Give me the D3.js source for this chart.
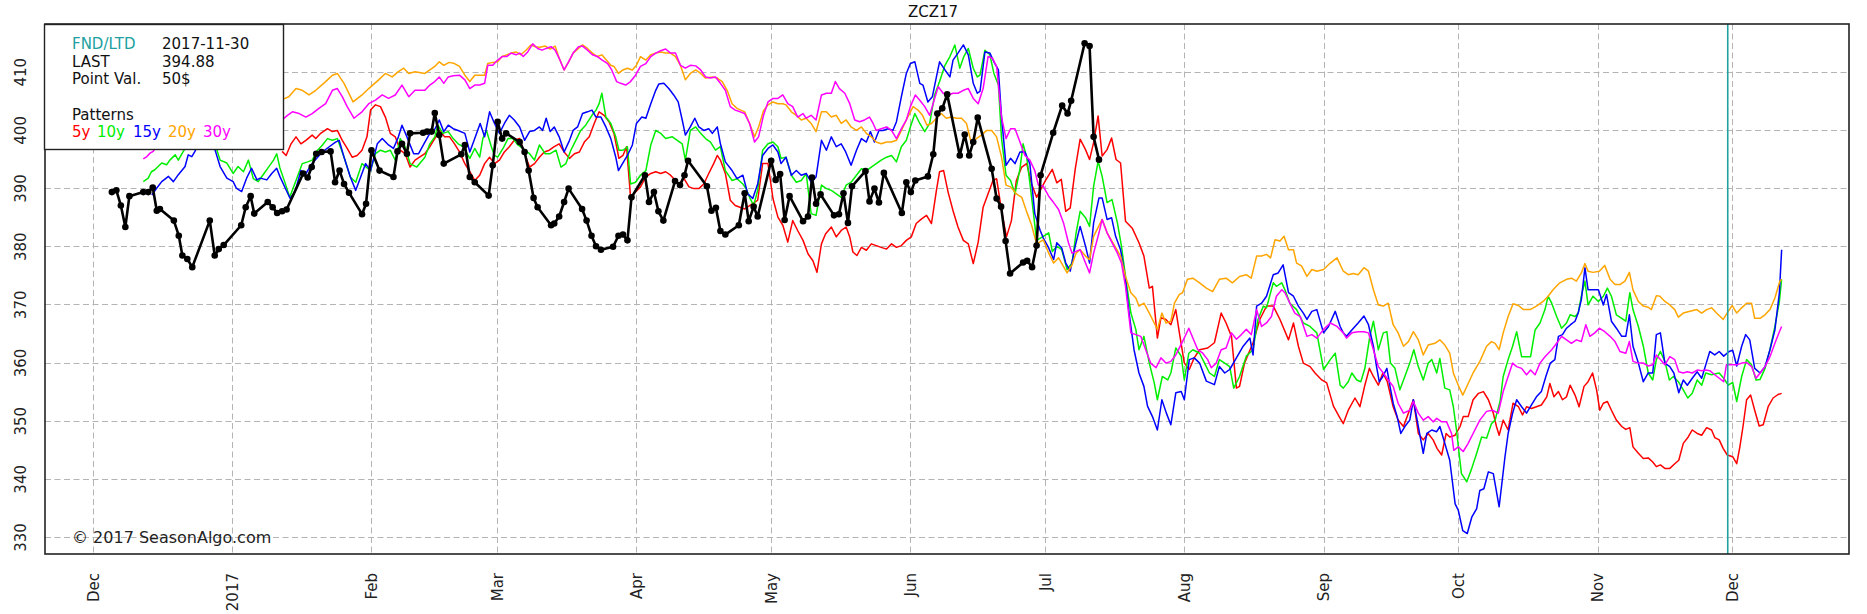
<!DOCTYPE html>
<html><head><meta charset="utf-8">
<script src="https://cdn.jsdelivr.net/npm/d3@7"></script>
<style>
html,body{margin:0;padding:0;background:#fff;}
svg{display:block;font-family:"DejaVu Sans",sans-serif;}
</style></head><body>
<svg id="chart" width="1867" height="614"></svg>
<script>
// ---- data (x = days since 2016-12-01, y = price) ----
const title = "ZCZ17";
const xTickDates = ["2016-12-01","2017-01-01","2017-02-01","2017-03-01","2017-04-01","2017-05-01","2017-06-01","2017-07-01","2017-08-01","2017-09-01","2017-10-01","2017-11-01","2017-12-01"];
const xTickLabels = ["Dec","2017","Feb","Mar","Apr","May","Jun","Jul","Aug","Sep","Oct","Nov","Dec"];
const yTicks = [330,340,350,360,370,380,390,400,410];
const fndDate = "2017-11-30";
const infoRows = [["FND/LTD","2017-11-30"],["LAST","394.88"],["Point Val.","50$"]];
const patternNames = ["5y","10y","15y","20y","30y"];

const price = [[4.2,389.3],[5.2,389.6],[6.2,387.0],[7.2,383.3],[8.1,388.6],[11.2,389.3],[12.3,389.3],[13.3,390.1],[14.2,386.1],[14.9,386.4],[18.0,384.4],[19.1,381.8],[19.9,378.4],[21.0,377.8],[22.1,376.4],[26.0,384.4],[27.1,378.4],[28.0,379.5],[29.1,380.2],[33.0,383.6],[34.0,386.7],[35.1,388.6],[35.9,385.6],[38.9,387.6],[40.0,386.7],[41.0,385.7],[42.1,386.0],[43.1,386.3],[46.8,392.5],[47.8,391.8],[48.7,393.6],[49.7,395.9],[50.9,396.2],[52.9,396.3],[53.9,391.0],[54.9,393.0],[55.9,390.7],[57.0,389.2],[59.9,385.5],[60.8,387.3],[62.0,396.5],[63.8,393.0],[66.9,391.9],[67.8,396.3],[68.8,397.6],[69.9,395.9],[70.6,399.4],[73.5,399.5],[74.4,399.7],[75.4,399.7],[76.1,402.9],[77.1,399.1],[78.1,394.2],[82.0,395.8],[82.8,397.4],[83.9,391.9],[85.0,391.0],[88.1,388.7],[89.0,393.9],[90.1,401.4],[91.1,398.5],[92.0,399.4],[95.0,397.9],[96.1,396.2],[97.0,393.0],[98.1,388.3],[99.0,386.7],[102.0,383.6],[102.7,383.9],[103.8,385.1],[104.9,387.6],[105.9,389.9],[108.9,386.4],[109.9,384.4],[111.0,381.8],[112.0,380.0],[113.1,379.4],[115.8,379.9],[117.0,381.8],[118.0,382.0],[119.0,381.0],[119.9,388.4],[122.9,392.2],[123.8,387.6],[124.9,389.3],[125.9,386.0],[127.0,384.4],[129.6,391.2],[130.7,390.5],[131.7,392.2],[132.5,394.7],[136.7,390.3],[137.7,386.1],[138.7,386.6],[139.7,382.6],[140.8,382.0],[143.8,383.6],[145.1,389.1],[146.0,384.3],[147.1,386.8],[148.0,385.1],[151.0,394.7],[152.0,391.4],[153.0,392.4],[154.0,384.5],[155.1,388.6],[158.1,384.3],[159.2,385.1],[160.1,391.8],[161.0,387.3],[162.0,388.9],[165.0,385.3],[166.1,385.5],[167.1,389.1],[168.1,384.0],[169.0,390.3],[172.0,392.9],[172.9,387.7],[174.0,389.9],[175.0,387.5],[176.1,392.6],[180.1,385.7],[181.1,391.0],[182.1,389.3],[183.1,391.3],[185.9,392.0],[187.1,395.8],[188.0,402.8],[189.1,403.7],[190.2,406.1],[193.0,395.6],[194.1,399.2],[195.1,395.6],[196.0,397.9],[197.0,402.1],[200.1,393.3],[201.2,388.2],[202.2,386.8],[203.2,380.9],[204.2,375.3],[207.1,377.2],[208.0,377.5],[209.1,376.4],[210.1,380.1],[211.0,392.2],[213.8,399.5],[215.8,404.2],[217.0,402.8],[217.8,405.0],[220.8,414.9],[221.9,414.4],[222.8,398.8],[224.0,394.88]];

const p5y = [[42.1,396.3],[43.0,395.6],[44.1,397.6],[45.2,398.8],[46.3,397.6],[47.4,398.2],[48.8,399.1],[49.6,398.5],[50.7,399.4],[52.2,400.2],[53.3,399.7],[54.4,399.9],[55.5,398.2],[56.6,396.8],[57.7,395.3],[58.8,395.6],[59.9,396.5],[61.0,398.8],[61.8,403.4],[62.9,404.3],[64.0,404.0],[65.1,402.2],[66.2,399.4],[67.3,398.8],[68.4,396.5],[69.5,395.9],[70.6,393.6],[71.7,394.8],[73.9,395.9],[75.0,397.1],[76.1,398.5],[77.2,399.9],[78.3,398.8],[79.4,398.8],[80.5,397.6],[81.6,396.2],[82.8,394.2],[83.9,392.8],[85.0,391.3],[86.1,392.2],[87.2,394.2],[88.3,395.3],[89.4,394.2],[90.5,394.8],[91.6,396.2],[92.7,397.1],[93.8,398.2],[95.0,398.5],[96.1,395.9],[97.2,393.6],[98.3,394.2],[99.4,395.3],[100.5,396.2],[101.6,396.5],[102.7,397.1],[103.8,397.6],[104.9,396.2],[106.1,395.1],[107.2,395.9],[108.3,396.2],[109.4,397.9],[110.5,398.8],[111.6,401.1],[112.7,403.1],[113.8,402.5],[114.9,401.4],[116.0,399.4],[117.1,395.1],[118.0,395.6],[118.8,397.1],[119.7,388.4],[120.8,389.3],[121.9,390.2],[123.1,391.9],[124.2,392.5],[125.3,392.8],[126.4,392.5],[127.5,392.8],[128.6,392.2],[129.7,391.3],[130.5,390.7],[131.6,391.6],[132.7,390.2],[133.8,389.9],[134.9,389.9],[136.0,390.7],[137.1,392.5],[138.2,394.2],[139.0,395.6],[139.7,394.8],[140.8,392.5],[141.9,387.9],[143.0,387.0],[145.1,386.4],[146.9,387.3],[148.0,387.9],[149.1,394.2],[150.3,394.2],[151.4,388.2],[152.5,385.0],[153.6,383.6],[154.7,380.7],[155.8,384.4],[156.9,382.7],[158.1,381.0],[159.2,378.7],[160.3,377.5],[161.2,375.5],[162.2,380.4],[163.1,382.1],[164.4,383.3],[165.5,381.6],[166.6,382.7],[167.7,383.3],[168.5,381.6],[169.2,379.0],[170.1,378.4],[171.1,379.8],[172.2,379.3],[173.3,380.4],[174.4,380.1],[175.5,379.8],[176.7,379.5],[177.8,380.4],[178.9,379.8],[180.0,380.1],[181.1,381.0],[182.2,381.6],[183.3,383.9],[184.5,384.7],[185.6,385.3],[186.7,383.9],[187.8,389.6],[188.5,392.8],[189.4,393.0],[190.4,389.3],[191.5,386.1],[192.6,383.3],[193.8,381.0],[194.9,380.4],[196.0,377.0],[197.1,380.7],[198.2,386.7],[199.3,389.0],[200.4,391.3],[201.2,391.6],[202.3,386.1],[203.4,381.6],[204.5,384.4],[205.6,391.3],[206.8,393.6],[207.9,394.2],[209.0,390.7],[210.1,388.4],[212.0,391.2],[213.6,393.2],[214.6,390.9],[215.6,391.5],[216.6,386.0],[217.6,386.6],[218.7,393.2],[219.8,398.4],[221.0,396.6],[221.9,394.9],[222.8,397.8],[223.8,402.4],[224.7,395.5],[225.8,396.6],[226.8,398.6],[227.8,394.9],[228.8,394.3],[229.9,384.3],[231.4,383.1],[232.9,380.6],[234.0,378.3],[235.2,372.8],[235.9,373.1],[237.0,364.2],[237.8,367.7],[238.9,367.4],[240.0,366.5],[241.1,369.1],[241.9,365.1],[243.0,359.9],[244.1,358.8],[245.2,360.8],[246.4,362.2],[248.2,362.5],[249.7,363.4],[251.2,368.5],[252.3,366.8],[253.5,364.5],[254.6,355.6],[255.3,355.9],[256.4,359.9],[258.3,363.4],[259.8,367.4],[261.3,369.7],[262.8,369.7],[264.3,367.4],[266.2,363.9],[267.3,366.8],[268.4,362.8],[269.5,359.9],[271.0,359.3],[272.1,358.2],[273.6,357.0],[274.7,356.5],[276.2,352.5],[277.7,350.4],[278.4,349.5],[279.5,351.8],[281.0,353.9],[282.1,352.4],[283.2,356.1],[284.2,359.0],[285.1,357.6],[286.2,356.1],[287.2,358.2],[288.2,356.7],[289.5,352.4],[290.6,350.1],[291.8,349.0],[292.9,351.3],[294.0,353.6],[295.1,347.8],[296.2,346.7],[297.3,347.8],[298.4,346.7],[299.3,345.2],[300.3,344.1],[301.3,347.8],[302.1,347.2],[303.3,347.5],[304.4,349.0],[305.1,350.7],[306.2,350.7],[307.3,353.6],[308.5,354.7],[309.6,355.0],[310.7,353.6],[311.8,351.3],[312.5,349.0],[313.1,347.5],[314.0,350.1],[315.1,348.4],[316.2,353.0],[317.4,352.4],[318.3,351.0],[319.2,352.4],[320.3,352.1],[321.4,352.4],[322.5,352.7],[323.7,354.1],[324.4,356.4],[325.3,354.1],[326.3,355.0],[327.2,353.6],[328.1,354.1],[328.9,356.1],[330.0,354.4],[330.9,352.4],[332.0,355.9],[332.9,356.7],[333.9,358.2],[334.8,355.3],[335.5,351.8],[336.3,353.0],[337.2,353.3],[338.1,351.8],[339.2,350.1],[340.4,349.0],[341.3,348.5],[342.2,348.8],[342.9,345.5],[344.1,344.4],[345.2,343.5],[346.3,343.6],[347.3,342.9],[348.1,342.1],[349.0,342.4],[350.0,341.8],[351.1,341.8],[352.2,342.6],[353.1,343.2],[354.1,346.1],[355.2,347.2],[356.1,348.4],[357.2,347.8],[358.2,347.5],[359.3,348.8],[360.4,348.4],[361.1,347.1],[362.1,346.7],[363.0,345.2],[363.9,344.1],[365.1,343.8],[366.0,342.6],[366.7,345.5],[367.4,349.0],[368.2,353.6],[369.1,354.4],[370.0,351.8],[371.0,349.1],[371.9,349.3],[373.0,352.4],[374.1,353.9],[375.2,354.5],[376.0,354.7]];

const p10y = [[11.2,391.1],[12.3,391.7],[13.0,392.8],[13.7,393.1],[15.3,394.3],[16.4,394.0],[17.1,394.8],[18.3,395.7],[19.0,394.8],[20.1,396.3],[23.5,400.0],[27.6,396.5],[28.3,394.8],[29.8,394.3],[31.2,392.5],[32.3,393.7],[33.5,392.8],[34.6,394.8],[35.7,391.6],[36.8,391.1],[37.8,392.2],[39.0,393.5],[40.2,394.8],[40.9,395.9],[41.6,393.5],[42.8,390.8],[43.8,388.4],[45.2,391.3],[46.6,394.2],[47.8,394.5],[48.8,394.8],[50.0,396.5],[51.1,397.4],[52.2,398.5],[53.3,398.2],[54.4,398.5],[55.9,395.3],[57.3,391.9],[58.5,391.0],[59.9,394.2],[61.8,393.0],[62.9,395.9],[64.0,396.5],[65.1,396.2],[66.2,396.5],[67.3,394.8],[68.4,398.5],[69.5,397.1],[70.6,394.2],[72.1,393.6],[73.9,395.3],[75.0,397.6],[76.1,398.8],[76.8,400.8],[77.9,399.4],[79.1,399.7],[80.2,398.5],[81.3,397.6],[82.4,397.1],[83.9,395.1],[85.0,396.8],[86.1,395.3],[86.8,398.5],[87.6,399.9],[88.7,397.1],[89.4,395.6],[90.1,395.3],[91.3,396.8],[92.4,398.5],[93.5,398.5],[94.6,397.4],[95.7,396.8],[97.2,395.9],[98.3,394.8],[99.4,397.4],[100.7,395.9],[101.8,395.9],[103.1,396.5],[104.2,393.6],[105.3,394.2],[106.4,396.5],[107.5,398.2],[108.6,399.9],[109.7,400.8],[111.1,402.5],[112.0,403.4],[112.7,404.5],[113.3,406.3],[114.2,402.2],[115.3,401.1],[116.4,398.8],[117.1,396.5],[118.0,396.5],[119.0,397.1],[119.7,390.7],[120.8,391.0],[121.9,392.2],[123.1,393.0],[124.2,397.4],[125.3,399.9],[126.4,399.4],[127.5,398.5],[129.0,398.8],[130.1,398.2],[131.2,397.6],[131.9,394.8],[133.0,399.9],[134.2,400.5],[135.3,399.4],[136.4,398.5],[137.5,397.9],[138.6,396.5],[139.7,397.1],[140.8,393.0],[142.3,391.3],[143.4,391.6],[144.7,390.7],[145.4,389.9],[146.2,388.4],[147.1,387.0],[148.0,389.6],[149.1,396.5],[150.3,397.6],[151.4,397.9],[152.5,397.1],[153.2,395.1],[154.3,395.3],[155.5,392.2],[156.6,391.0],[157.7,391.3],[158.8,392.5],[159.9,385.6],[161.0,385.3],[162.2,390.5],[163.3,389.9],[164.4,389.6],[165.5,389.0],[166.6,388.4],[167.7,390.5],[168.8,391.0],[170.0,392.2],[171.1,393.3],[172.2,393.0],[173.3,393.6],[174.4,394.2],[175.5,394.8],[176.7,395.3],[177.8,395.6],[178.9,394.5],[180.0,397.1],[181.1,398.2],[182.0,400.5],[183.0,402.8],[184.1,401.1],[185.2,399.7],[186.3,401.1],[187.4,406.0],[188.5,408.3],[189.7,411.1],[190.8,412.6],[191.9,414.6],[193.0,410.6],[193.9,412.6],[194.9,414.0],[196.0,410.6],[196.9,409.1],[197.5,409.4],[198.6,413.7],[199.7,412.9],[200.6,409.7],[201.6,407.7],[202.3,398.5],[203.3,392.2],[204.3,391.3],[205.3,389.0],[206.4,393.3],[207.1,397.6],[207.9,395.3],[209.0,388.4],[210.1,381.0],[211.6,381.7],[212.8,382.3],[213.6,379.1],[214.6,380.0],[215.7,379.4],[216.9,376.0],[218.0,377.1],[218.9,382.3],[219.8,386.0],[221.0,384.9],[221.9,383.4],[222.8,390.3],[223.8,394.6],[224.7,392.0],[225.8,387.5],[226.9,388.0],[228.1,384.0],[229.0,380.0],[230.1,373.7],[231.1,368.5],[232.2,365.7],[232.9,362.2],[234.0,364.5],[235.2,359.9],[236.3,356.5],[237.0,353.6],[238.1,357.6],[239.3,357.0],[240.0,358.2],[241.1,362.5],[242.3,361.1],[243.0,357.0],[244.0,361.6],[244.9,362.2],[246.4,361.6],[247.5,359.9],[248.6,358.2],[249.7,357.6],[250.8,360.5],[252.0,359.9],[253.1,359.3],[254.0,355.6],[255.3,357.6],[256.8,361.1],[258.3,362.2],[259.4,367.4],[260.6,369.7],[261.3,369.4],[262.8,373.7],[263.5,373.1],[264.7,373.7],[265.4,372.5],[266.5,370.2],[268.0,369.1],[269.5,366.8],[271.0,366.2],[272.5,365.1],[274.0,358.8],[275.5,360.5],[276.6,361.6],[277.7,356.1],[278.4,355.6],[279.5,356.7],[280.3,358.2],[281.4,357.0],[282.3,356.7],[283.2,359.0],[284.3,364.5],[285.1,367.1],[286.2,362.2],[287.3,365.1],[288.1,365.3],[288.9,359.9],[289.9,359.0],[291.0,355.3],[292.1,357.6],[293.2,359.9],[294.1,362.2],[295.1,359.3],[296.2,357.0],[297.3,359.9],[298.1,360.5],[299.2,358.2],[299.9,360.7],[301.0,355.6],[302.1,355.3],[302.9,352.4],[303.6,348.4],[304.7,340.9],[305.9,339.5],[307.0,341.8],[308.1,344.4],[309.2,347.2],[310.3,347.0],[311.4,349.5],[312.2,350.1],[313.3,353.3],[314.0,357.6],[315.1,360.5],[316.1,362.8],[317.0,365.3],[318.1,361.0],[319.2,361.0],[320.1,361.0],[321.1,365.6],[322.2,366.8],[323.3,369.1],[324.0,371.4],[324.8,370.2],[325.9,367.9],[327.0,365.9],[328.1,366.8],[328.9,368.2],[330.0,367.9],[330.7,368.5],[331.4,371.4],[332.2,374.0],[332.9,369.9],[334.0,371.4],[335.2,370.5],[336.3,371.4],[337.2,372.8],[338.1,371.4],[339.2,368.2],[340.4,367.6],[341.3,367.1],[342.2,372.0],[342.9,369.1],[344.1,366.2],[345.2,362.8],[346.3,358.2],[347.3,357.0],[348.1,360.5],[349.0,361.9],[350.0,360.2],[351.0,357.0],[351.9,357.6],[353.0,356.7],[354.1,355.3],[355.1,353.9],[356.1,354.7],[357.2,357.0],[358.2,356.1],[359.1,358.2],[360.4,357.9],[362.1,358.2],[363.1,357.3],[364.1,356.1],[365.1,356.6],[366.0,353.3],[367.1,357.6],[368.2,360.5],[369.3,359.6],[370.3,357.0],[371.2,357.1],[372.3,359.0],[373.4,362.2],[374.5,366.2],[375.5,370.5],[376.0,374.3]];

const p15y = [[13.1,388.8],[14.2,390.0],[15.3,391.1],[16.8,392.0],[17.9,391.1],[19.0,392.3],[20.5,393.7],[21.2,395.7],[22.0,395.4],[22.7,396.3],[24.5,399.5],[26.8,397.5],[28.3,393.7],[29.8,391.7],[31.2,391.1],[31.9,390.0],[33.1,389.4],[34.2,391.7],[35.3,393.4],[36.5,391.4],[37.2,391.7],[38.7,391.4],[39.8,392.5],[40.9,393.4],[41.6,392.0],[42.8,390.0],[43.9,388.2],[45.0,389.4],[46.3,393.0],[47.4,392.5],[48.8,394.2],[50.0,395.3],[51.1,396.2],[52.6,397.1],[54.0,397.9],[54.8,398.2],[55.9,395.3],[57.3,391.9],[58.5,389.6],[59.6,391.9],[60.7,394.2],[61.8,393.0],[63.3,397.6],[64.4,398.5],[65.8,397.4],[66.9,396.8],[68.0,398.8],[68.8,400.8],[69.9,398.8],[71.4,395.9],[72.5,395.9],[73.9,397.9],[75.0,399.4],[76.1,400.1],[77.1,401.7],[78.1,399.7],[79.1,400.8],[80.2,400.2],[81.3,399.9],[82.8,399.4],[83.9,396.2],[85.0,398.5],[86.2,401.1],[87.2,398.8],[88.3,403.1],[89.4,401.1],[90.5,399.4],[91.6,401.1],[92.7,402.5],[93.8,401.7],[95.0,400.5],[96.1,398.2],[97.2,399.7],[98.3,399.9],[99.4,400.5],[100.1,399.9],[100.9,402.0],[101.8,399.7],[102.7,400.5],[103.8,398.8],[104.9,396.2],[106.1,398.2],[106.9,399.9],[107.9,400.5],[109.0,402.8],[110.1,403.1],[111.1,403.4],[112.0,402.2],[113.1,402.2],[114.2,400.5],[115.3,398.5],[116.4,395.3],[117.0,393.0],[117.9,394.2],[119.0,395.6],[120.1,397.4],[121.0,401.1],[122.2,402.2],[123.1,402.0],[124.2,404.5],[125.3,406.8],[126.0,407.9],[127.1,408.0],[128.2,407.1],[129.3,406.0],[130.3,404.8],[131.2,401.7],[131.9,399.1],[133.0,400.5],[134.0,402.0],[134.9,400.5],[136.0,399.9],[137.1,400.2],[137.9,399.4],[139.0,400.5],[139.7,397.6],[140.8,394.5],[142.3,393.0],[143.4,391.6],[144.7,392.2],[145.8,389.0],[146.9,388.2],[148.0,390.7],[149.1,395.6],[150.3,396.8],[151.4,397.4],[152.5,396.2],[153.2,394.2],[154.3,395.3],[155.5,392.2],[156.6,393.0],[157.7,392.2],[158.8,392.5],[159.9,391.0],[161.0,391.9],[162.2,398.2],[163.3,396.5],[164.4,398.8],[165.5,397.1],[166.6,397.6],[167.6,396.2],[168.8,393.9],[170.0,396.5],[171.1,398.5],[172.2,397.9],[173.1,399.7],[174.0,397.9],[175.0,399.9],[175.9,399.9],[177.0,400.2],[178.1,399.9],[178.9,401.4],[180.0,405.7],[181.1,409.7],[182.0,411.4],[183.0,411.7],[184.1,408.0],[184.8,407.7],[185.9,404.8],[186.9,405.7],[187.8,409.1],[188.5,411.7],[189.7,410.3],[190.8,409.1],[191.5,412.0],[192.6,413.2],[193.8,414.6],[194.9,412.9],[196.0,408.0],[196.9,406.3],[197.5,406.6],[198.6,413.4],[199.7,413.2],[200.6,411.7],[201.6,410.3],[202.3,402.2],[203.3,393.9],[204.3,395.1],[205.3,394.2],[206.4,396.2],[207.5,396.2],[208.6,394.2],[209.7,385.6],[210.9,382.7],[211.6,381.4],[212.8,379.7],[213.9,377.7],[214.6,380.6],[215.7,379.7],[216.6,377.1],[217.6,375.7],[218.7,380.0],[219.8,383.4],[221.0,380.0],[221.9,377.1],[222.8,384.0],[224.0,388.3],[224.7,388.3],[225.8,384.6],[226.8,384.9],[227.7,381.7],[228.8,379.4],[229.8,374.8],[230.7,368.5],[231.8,362.2],[232.9,358.2],[234.0,355.9],[234.8,352.5],[235.9,350.7],[237.0,348.4],[238.0,353.6],[239.0,351.3],[240.0,349.3],[241.1,354.8],[242.3,355.0],[243.0,353.6],[244.1,360.5],[245.2,360.8],[246.4,359.9],[247.9,356.8],[249.7,356.2],[250.8,359.3],[252.0,358.2],[253.1,358.8],[254.6,360.8],[256.1,362.8],[257.6,364.2],[258.3,361.3],[259.1,369.7],[260.2,370.2],[261.3,371.4],[262.8,375.1],[263.9,375.4],[265.0,376.8],[266.2,372.0],[267.3,371.4],[268.4,369.7],[269.5,368.5],[270.3,367.4],[271.4,368.8],[272.5,369.1],[274.0,365.1],[275.1,366.2],[276.6,368.8],[277.7,366.2],[278.4,365.1],[279.1,364.5],[280.3,365.6],[281.7,366.8],[283.0,368.0],[284.0,366.5],[285.1,362.8],[285.8,359.3],[286.4,356.7],[287.2,357.6],[288.1,359.0],[288.8,355.9],[289.5,353.0],[290.4,350.7],[291.2,347.8],[292.1,349.0],[293.2,350.1],[294.0,353.6],[295.1,349.0],[296.2,344.4],[297.0,347.8],[298.1,348.4],[299.2,348.1],[299.9,349.0],[301.0,346.1],[302.1,343.2],[303.3,335.7],[304.0,334.6],[305.0,331.1],[306.0,330.6],[307.0,333.4],[308.1,334.9],[308.8,338.0],[309.7,338.3],[310.7,341.2],[311.8,340.9],[313.1,335.2],[314.4,343.8],[315.1,347.8],[316.1,351.3],[317.0,353.6],[318.1,352.4],[319.2,351.3],[320.3,352.7],[321.4,354.1],[322.5,355.0],[323.5,357.6],[324.5,359.9],[325.5,360.5],[326.3,364.5],[327.2,364.8],[328.1,365.9],[329.0,366.5],[330.0,367.1],[330.7,368.5],[331.4,370.8],[332.2,376.3],[332.9,372.5],[334.0,372.5],[335.2,372.5],[336.3,369.9],[337.0,371.7],[338.1,367.1],[339.2,365.9],[340.4,364.5],[341.3,364.5],[342.1,368.2],[342.9,362.8],[344.1,359.9],[345.2,356.7],[346.3,358.2],[347.3,358.2],[348.1,364.8],[349.0,365.1],[350.0,359.9],[351.1,359.3],[352.0,358.2],[353.1,354.8],[354.1,357.0],[355.0,356.1],[356.1,357.3],[357.2,358.4],[358.2,357.3],[359.1,359.6],[360.0,361.9],[361.1,361.3],[362.1,361.9],[363.1,361.1],[364.3,361.9],[365.1,362.1],[366.0,359.4],[367.1,362.8],[368.0,364.8],[368.9,363.9],[370.0,359.0],[371.2,358.2],[372.3,359.3],[373.4,362.2],[374.5,365.6],[375.5,372.0],[376.0,379.4]];

const p20y = [[36.0,406.0],[42.1,405.2],[43.6,405.7],[45.2,407.1],[46.6,406.8],[48.1,406.0],[49.6,406.8],[51.8,408.3],[53.3,409.4],[54.4,409.7],[55.9,408.0],[57.9,404.8],[59.9,406.0],[61.4,407.1],[63.6,408.6],[65.1,409.7],[66.6,409.1],[68.0,410.0],[69.2,410.6],[70.3,409.7],[71.7,410.0],[73.9,409.7],[75.0,410.3],[76.1,410.9],[77.1,411.7],[78.1,411.1],[79.3,411.6],[80.5,411.4],[81.6,410.9],[82.8,409.4],[83.9,408.3],[85.0,409.4],[86.1,409.4],[87.2,409.4],[87.9,411.4],[89.0,411.6],[90.1,411.7],[91.1,412.6],[92.1,412.9],[93.1,413.2],[94.2,413.4],[95.3,412.9],[96.4,413.7],[97.5,414.6],[98.5,414.3],[99.5,414.2],[100.7,414.4],[101.8,413.9],[102.9,414.4],[103.8,412.3],[104.9,410.3],[105.9,411.7],[106.9,413.2],[108.1,414.0],[109.0,414.6],[110.1,414.0],[111.2,413.2],[112.3,412.6],[113.3,412.9],[114.3,412.0],[115.3,411.1],[116.0,410.9],[117.0,409.7],[118.0,410.3],[119.0,410.6],[120.1,410.3],[121.0,411.1],[121.9,412.6],[123.1,412.0],[124.2,412.9],[125.3,413.2],[126.4,413.4],[127.5,413.2],[128.6,413.2],[129.7,412.6],[130.8,411.1],[131.9,408.6],[133.0,409.7],[134.2,410.3],[135.3,409.7],[136.4,408.9],[137.9,409.1],[139.0,408.9],[140.1,408.3],[141.2,406.8],[142.3,404.5],[143.4,403.7],[145.1,403.1],[146.2,401.1],[147.3,398.8],[148.2,400.5],[149.3,403.3],[150.3,404.3],[151.4,404.8],[152.5,404.5],[153.6,404.5],[154.3,404.3],[155.5,403.1],[156.6,402.5],[157.7,401.7],[158.8,402.0],[159.9,401.1],[161.0,399.7],[162.2,403.1],[163.3,403.1],[164.4,402.2],[165.5,402.5],[166.6,401.1],[167.7,401.7],[168.8,400.5],[170.0,399.9],[171.1,400.5],[172.2,399.4],[173.3,398.8],[174.4,397.9],[175.5,397.6],[176.7,397.9],[177.8,397.9],[178.9,398.2],[180.0,399.9],[181.1,401.7],[182.6,404.0],[183.7,403.4],[184.7,402.5],[185.7,400.8],[186.7,401.1],[187.8,402.0],[188.9,402.8],[190.0,402.0],[191.1,402.2],[192.3,402.0],[193.4,402.0],[194.5,401.1],[195.6,397.6],[196.7,398.5],[197.8,399.1],[199.0,399.9],[200.1,399.9],[201.2,398.8],[202.3,395.3],[203.3,390.5],[204.3,390.2],[205.6,389.0],[206.8,388.4],[207.9,385.9],[209.0,383.6],[210.1,380.4],[211.6,381.1],[212.8,378.8],[213.9,377.1],[215.0,378.0],[216.9,375.4],[218.0,376.8],[218.9,378.8],[219.8,379.4],[221.0,378.3],[221.9,377.7],[222.8,381.7],[224.7,384.6],[225.8,382.3],[227.3,380.3],[228.8,378.3],[229.9,374.8],[231.1,372.0],[232.2,371.1],[232.9,369.7],[234.0,370.2],[235.2,368.5],[236.3,366.8],[237.0,365.7],[238.0,368.5],[238.9,366.8],[240.0,367.1],[240.8,370.2],[241.9,371.7],[242.6,372.0],[243.7,374.3],[244.9,374.5],[246.4,373.7],[247.9,372.8],[249.3,372.2],[250.8,374.3],[252.3,374.5],[253.7,373.7],[255.3,374.8],[256.8,375.1],[257.9,374.5],[259.1,378.3],[260.2,378.3],[261.3,378.6],[262.2,378.0],[263.2,381.1],[264.3,380.9],[265.2,381.7],[266.2,379.4],[267.3,379.4],[268.0,377.1],[269.1,376.6],[270.3,374.8],[271.4,376.0],[272.5,375.7],[274.0,376.0],[275.5,377.1],[277.0,378.0],[278.4,375.7],[279.5,375.1],[280.6,375.3],[281.7,375.1],[283.0,376.3],[284.0,375.7],[285.1,372.5],[286.2,369.9],[287.3,369.7],[288.4,370.2],[289.5,366.5],[290.6,365.1],[291.8,362.8],[292.9,363.6],[294.0,365.3],[295.1,363.9],[296.2,361.3],[297.3,363.0],[298.8,363.3],[299.9,363.9],[301.0,363.0],[302.1,361.6],[302.9,358.2],[304.0,356.1],[305.0,354.4],[306.2,356.4],[307.3,358.2],[308.8,360.2],[310.3,362.8],[311.4,363.6],[312.2,363.3],[313.1,362.2],[314.0,365.1],[315.1,367.9],[316.2,370.1],[317.4,369.8],[318.5,369.1],[320.0,369.1],[321.4,369.7],[322.9,370.5],[324.0,371.4],[325.1,372.5],[326.6,373.7],[328.1,374.3],[329.2,374.5],[330.3,374.0],[331.4,375.4],[332.2,377.0],[332.9,375.7],[334.0,375.5],[335.4,375.7],[336.6,376.7],[337.8,374.3],[338.9,373.4],[340.0,373.4],[341.1,374.0],[342.1,375.5],[342.9,372.5],[344.1,370.5],[345.2,369.7],[346.3,369.5],[347.0,369.1],[348.1,371.5],[348.9,371.4],[350.0,370.5],[351.1,369.9],[352.2,369.1],[353.0,367.8],[354.1,368.5],[355.6,368.8],[357.1,369.1],[358.2,368.5],[359.3,369.1],[360.4,369.4],[361.5,368.5],[363.0,367.4],[364.1,368.8],[365.0,369.8],[366.0,368.5],[367.1,369.4],[368.2,370.2],[369.3,370.2],[370.0,367.6],[371.2,367.6],[372.3,368.2],[373.4,369.1],[374.5,371.1],[375.6,374.0],[376.0,374.3]];

const p30y = [[11.2,395.0],[12.0,395.4],[12.7,396.0],[13.4,396.3],[16.0,399.5],[42.1,401.7],[43.3,402.5],[44.4,403.1],[45.9,402.8],[47.4,402.2],[48.8,402.8],[50.3,403.7],[51.8,404.5],[53.3,406.8],[54.4,407.1],[55.5,405.7],[56.6,404.0],[58.1,402.0],[59.9,403.1],[61.4,404.5],[62.9,405.1],[64.4,406.0],[65.8,405.4],[67.3,406.0],[68.8,407.7],[70.3,405.7],[71.7,406.8],[73.9,406.8],[75.0,407.7],[76.1,408.3],[77.1,409.1],[78.1,408.0],[79.1,409.1],[80.2,409.3],[81.6,409.4],[82.8,408.6],[83.9,407.1],[85.0,407.7],[86.1,407.7],[87.2,408.0],[87.9,411.1],[89.0,411.1],[90.1,412.0],[91.1,412.6],[92.1,412.6],[93.1,413.2],[94.2,412.9],[95.0,413.2],[95.8,412.6],[96.8,413.4],[97.9,414.8],[99.0,414.0],[100.0,413.7],[100.9,414.0],[102.0,414.3],[102.9,413.7],[103.8,412.3],[104.9,410.3],[105.9,411.7],[106.9,413.2],[108.1,414.3],[109.0,414.4],[110.1,413.7],[111.2,412.9],[112.3,412.6],[113.4,412.0],[114.6,411.4],[115.5,410.3],[116.6,408.3],[117.5,408.0],[118.6,407.7],[119.7,408.3],[120.8,409.4],[121.9,410.9],[123.1,411.4],[124.2,412.6],[125.3,413.2],[126.4,413.6],[127.5,413.9],[128.6,413.2],[129.7,413.2],[130.8,411.1],[131.9,410.6],[133.0,411.1],[134.2,411.0],[135.3,410.3],[136.4,409.1],[137.5,408.9],[138.6,409.1],[139.7,408.0],[140.8,406.8],[141.9,404.0],[143.0,403.4],[144.1,403.1],[145.1,402.8],[146.2,401.1],[147.3,397.9],[148.2,398.8],[149.3,402.5],[150.3,404.8],[151.4,405.4],[152.5,405.4],[153.6,406.0],[154.7,404.5],[155.8,404.0],[156.9,402.2],[158.1,402.8],[158.8,402.0],[159.9,402.5],[161.0,401.7],[162.2,406.0],[163.3,406.3],[164.4,406.3],[165.3,408.3],[166.2,407.1],[167.4,406.3],[168.5,404.5],[169.6,401.7],[170.7,401.4],[171.8,401.7],[172.9,402.2],[173.7,401.1],[174.4,399.9],[175.5,400.2],[176.7,400.5],[177.8,399.9],[178.9,398.5],[180.0,400.2],[181.1,401.7],[182.0,404.0],[183.1,406.0],[184.1,405.1],[185.2,404.0],[186.3,402.5],[187.4,405.4],[188.2,407.4],[189.3,406.3],[190.4,406.0],[191.5,406.3],[192.6,406.3],[193.8,406.8],[194.9,407.1],[196.0,405.4],[197.1,404.5],[198.2,407.1],[199.3,412.6],[200.3,412.3],[201.2,410.9],[202.3,402.2],[203.3,398.5],[204.3,400.2],[205.3,400.2],[206.4,397.9],[207.5,395.6],[208.6,394.8],[209.7,393.0],[210.5,390.5],[211.6,390.3],[212.8,388.6],[213.9,387.5],[215.0,386.3],[216.1,384.0],[217.2,380.6],[218.0,378.8],[218.9,379.1],[219.8,379.4],[221.0,377.1],[221.9,375.4],[222.8,378.8],[224.0,382.3],[224.7,384.6],[225.8,382.3],[226.9,380.6],[228.1,378.8],[229.0,377.1],[229.9,373.1],[231.1,365.1],[232.2,364.8],[233.3,364.5],[234.4,362.2],[235.5,359.9],[236.7,359.1],[237.8,360.8],[238.9,359.9],[240.0,360.2],[241.1,361.3],[242.6,363.6],[244.0,365.9],[244.9,364.2],[246.0,362.2],[247.1,361.6],[248.2,360.5],[249.0,359.1],[250.1,359.9],[251.2,362.2],[252.3,362.5],[253.5,365.1],[254.6,364.0],[255.7,364.8],[256.8,365.7],[257.9,364.8],[259.1,369.1],[260.2,366.2],[261.3,366.8],[262.4,367.9],[263.5,371.4],[264.7,372.5],[265.4,372.0],[266.5,370.2],[267.6,368.5],[268.8,367.9],[270.3,364.5],[271.4,364.8],[272.5,364.2],[274.0,365.7],[275.5,366.8],[277.0,366.2],[278.4,365.1],[279.1,364.2],[280.3,365.1],[281.7,365.3],[283.0,365.3],[284.0,365.1],[285.1,362.2],[286.2,359.3],[287.3,358.2],[288.4,357.0],[289.5,355.9],[290.6,353.0],[291.8,351.3],[293.2,351.8],[294.0,353.3],[295.1,351.3],[296.2,350.1],[297.3,350.7],[298.4,349.8],[299.2,350.4],[300.3,349.8],[301.4,349.8],[302.5,347.8],[303.0,344.9],[304.0,345.5],[305.1,344.7],[306.2,346.1],[307.3,347.8],[308.8,350.1],[310.3,351.6],[311.6,351.8],[312.9,351.3],[314.0,355.0],[315.1,357.6],[316.1,359.9],[317.0,359.3],[318.1,359.0],[319.2,357.9],[320.1,358.7],[321.1,357.9],[322.2,359.9],[323.3,361.0],[324.8,362.2],[325.9,363.3],[327.0,364.5],[328.1,363.9],[329.2,363.3],[330.3,363.9],[331.4,363.6],[332.4,366.5],[333.3,364.5],[334.4,365.1],[335.4,365.9],[336.6,365.3],[337.8,364.5],[338.9,363.6],[340.0,361.9],[341.3,361.6],[342.1,363.6],[342.9,360.2],[344.1,359.9],[345.2,359.9],[346.3,359.4],[347.3,359.6],[348.1,361.3],[349.0,360.5],[350.0,359.6],[351.1,361.0],[352.2,360.5],[353.1,358.4],[354.1,358.2],[355.0,358.4],[356.1,358.2],[357.2,358.7],[358.2,358.6],[359.1,358.7],[360.0,358.6],[361.1,357.9],[362.1,357.3],[363.1,356.7],[363.7,359.6],[365.1,359.6],[366.0,359.6],[367.1,359.9],[368.2,360.0],[369.3,359.3],[370.3,357.3],[371.2,358.2],[372.3,359.3],[373.4,361.0],[374.5,363.3],[375.5,365.3],[376.0,366.2]];

// ---- drawing ----
const patternSeries = [p5y, p10y, p15y, p20y, p30y];
const colors = ["#ff0000", "#00ee00", "#0000ff", "#ffa500", "#ff00ff"];
const teal = "#20a0a0";
const plot = {l: 45, r: 1849, t: 24, b: 554};

const svg = d3.select("#chart");
const day0 = Date.UTC(2016, 11, 1);
const toDate = d => new Date(day0 + d * 864e5);
const parse = d3.utcParse("%Y-%m-%d");

const x = d3.scaleUtc().domain([toDate(-10.69), toDate(391.0)]).range([plot.l, plot.r]);
const y = d3.scaleLinear().domain([327.08, 418.2]).range([plot.b, plot.t]);

// grid
const grid = svg.append("g").attr("stroke", "#b4b4b4").attr("stroke-width", 1).attr("stroke-dasharray", "6,3.5");
grid.selectAll("line.v").data(xTickDates).join("line").attr("class", "v")
  .attr("x1", d => Math.round(x(parse(d))) + 0.5).attr("x2", d => Math.round(x(parse(d))) + 0.5)
  .attr("y1", plot.t).attr("y2", plot.b);
grid.selectAll("line.h").data(yTicks).join("line").attr("class", "h")
  .attr("x1", plot.l).attr("x2", plot.r)
  .attr("y1", d => Math.round(y(d)) + 0.5).attr("y2", d => Math.round(y(d)) + 0.5);

// pattern lines
const line = d3.line().x(d => x(toDate(d[0]))).y(d => y(d[1]));
svg.append("g").selectAll("path").data(patternSeries).join("path")
  .attr("d", line).attr("fill", "none")
  .attr("stroke", (d, i) => colors[i]).attr("stroke-width", 1.5).attr("stroke-linejoin", "round");

// price line with dots
svg.append("path").datum(price).attr("d", line).attr("fill", "none")
  .attr("stroke", "#000").attr("stroke-width", 2.6).attr("stroke-linejoin", "round");
svg.append("g").selectAll("circle").data(price).join("circle")
  .attr("cx", d => x(toDate(d[0]))).attr("cy", d => y(d[1])).attr("r", 3.3).attr("fill", "#000");

// FND vertical line
svg.append("line").attr("x1", x(parse(fndDate))).attr("x2", x(parse(fndDate)))
  .attr("y1", plot.t).attr("y2", plot.b).attr("stroke", teal).attr("stroke-width", 1.6);

// frame
svg.append("rect").attr("x", plot.l).attr("y", plot.t).attr("width", plot.r - plot.l).attr("height", plot.b - plot.t)
  .attr("fill", "none").attr("stroke", "#222").attr("stroke-width", 1.6);

// axes
const xAxis = d3.axisBottom(x).tickValues(xTickDates.map(parse))
  .tickFormat((d, i) => xTickLabels[i]).tickSize(0);
const gx = svg.append("g").attr("transform", `translate(0,${plot.b})`).call(xAxis);
gx.select(".domain").remove();
gx.selectAll("text").attr("y", null).attr("dy", null)
  .attr("transform", "translate(0,19) rotate(-90)")
  .attr("text-anchor", "end").attr("dominant-baseline", "central")
  .attr("font-size", 15).attr("font-family", "DejaVu Sans").attr("fill", "#222");

const yAxis = d3.axisLeft(y).tickValues(yTicks).tickFormat(d3.format("d")).tickSize(0);
const gy = svg.append("g").attr("transform", `translate(${plot.l},0)`).call(yAxis);
gy.select(".domain").remove();
gy.selectAll("text").attr("x", null).attr("dy", null)
  .attr("transform", "translate(-24,0) rotate(-90)")
  .attr("text-anchor", "middle").attr("dominant-baseline", "central")
  .attr("font-size", 15).attr("font-family", "DejaVu Sans").attr("fill", "#222");

// title
svg.append("text").attr("x", 933).attr("y", 17).attr("text-anchor", "middle")
  .attr("font-size", 15).attr("fill", "#111").text(title);

// info / legend box
svg.append("rect").attr("x", 44.5).attr("y", 24.5).attr("width", 239).attr("height", 125)
  .attr("fill", "#fff").attr("stroke", "#222").attr("stroke-width", 1.4);
const info = svg.append("g").attr("font-size", 15).attr("fill", "#111");
infoRows.forEach((r, i) => {
  info.append("text").attr("x", 72).attr("y", 49 + i * 17.5).attr("fill", i === 0 ? teal : "#111").text(r[0]);
  info.append("text").attr("x", 162).attr("y", 49 + i * 17.5).text(r[1]);
});
info.append("text").attr("x", 72).attr("y", 120).text("Patterns");
const legX = [72, 97, 133, 168, 203];
patternNames.forEach((n, i) => {
  info.append("text").attr("x", legX[i]).attr("y", 137).attr("fill", colors[i]).text(n);
});

// copyright
svg.append("text").attr("x", 72).attr("y", 543).attr("font-size", 16).attr("fill", "#222")
  .text("© 2017 SeasonAlgo.com");
</script>
</body></html>
